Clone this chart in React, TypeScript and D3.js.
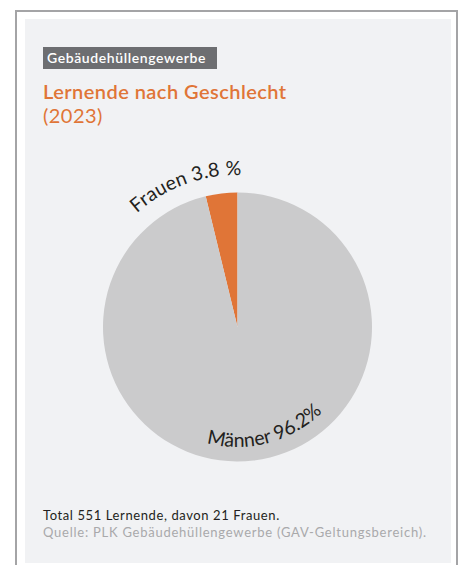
import React from "react";
import * as d3 from "d3";

const categories = ["Frauen", "Männer"];
const shares = [3.8, 96.2];
const labels = ["Frauen 3.8 %", "Männer 96.2%"];
const colors = ["#E07537", "#CBCBCC"];
const tagText = "Gebäudehüllengewerbe";
const titleText = "Lernende nach Geschlecht";
const subtitleText = "(2023)";
const noteText = "Total 551 Lernende, davon 21 Frauen.";
const sourceText = "Quelle: PLK Gebäudehüllengewerbe (GAV-Geltungsbereich).";

const W = 463;
const H = 565;
const cx = 237.5;
const cy = 327;
const R = 134.5;
const FONT = "Lato, 'Open Sans', sans-serif";

function arcPath(r: number, centerDeg: number, spanDeg: number, clockwise: boolean) {
  const toRad = (d: number) => (d * Math.PI) / 180;
  const a0 = clockwise ? centerDeg - spanDeg / 2 : centerDeg + spanDeg / 2;
  const a1 = clockwise ? centerDeg + spanDeg / 2 : centerDeg - spanDeg / 2;
  const p = (a: number) => [cx + r * Math.sin(toRad(a)), cy - r * Math.cos(toRad(a))];
  const [x0, y0] = p(a0);
  const [x1, y1] = p(a1);
  const large = spanDeg > 180 ? 1 : 0;
  return `M${x0},${y0} A${r},${r} 0 ${large} ${clockwise ? 1 : 0} ${x1},${y1}`;
}

export default function App() {
  const data = categories.map((c, i) => ({ c, v: shares[i], color: colors[i], label: labels[i] }));
  const pie = d3
    .pie<any>()
    .value((d) => d.v)
    .sort(null)
    .startAngle(-2 * Math.PI * (shares[0] / 100))
    .endAngle(2 * Math.PI - 2 * Math.PI * (shares[0] / 100));
  const arcs = pie(data);
  const arcGen = d3.arc<any>().innerRadius(0).outerRadius(R);

  return (
    <svg
      width={W}
      height={H}
      style={{ position: "absolute", left: 0, top: 0, fontFamily: FONT }}
    >
      <rect x={0} y={0} width={W} height={H} fill="#ffffff" />
      <rect x={16} y={11} width={441} height={H} fill="none" stroke="#a4a4a6" strokeWidth={2} />
      <rect x={25} y={19} width={426} height={544} fill="#f1f2f4" />

      <rect x={43} y={47} width={174} height={22} fill="#6d6e71" />
      <text x={47} y={63} fill="#ffffff" fontSize={14} fontWeight={600} letterSpacing={0.6}>
        {tagText}
      </text>

      <text x={43} y={99} fill="#E07537" fontSize={20} fontWeight={600} letterSpacing={0.45}>
        {titleText}
      </text>
      <text x={43} y={123} fill="#E07537" fontSize={20} fontWeight={400} letterSpacing={0.45}>
        {subtitleText}
      </text>

      <g transform={`translate(${cx},${cy})`}>
        {arcs.map((a, i) => (
          <path key={i} d={arcGen(a) as string} fill={a.data.color} />
        ))}
      </g>

      <defs>
        <path id="lblTop" d={arcPath(152, -20, 140, true)} />
        <path id="lblBottom" d={arcPath(120, 165, 140, false)} />
      </defs>
      <text fontSize={19.5} fill="#231f20" fontWeight={400} letterSpacing={0.2}>
        <textPath href="#lblTop" startOffset="50%" textAnchor="middle">
          {labels[0]}
        </textPath>
      </text>
      <text fontSize={19.5} fill="#231f20" fontWeight={400} letterSpacing={0}>
        <textPath href="#lblBottom" startOffset="50%" textAnchor="middle">
          {labels[1]}
        </textPath>
      </text>

      <text x={43} y={520} fill="#231f20" fontSize={13} letterSpacing={0.6}>
        {noteText}
      </text>
      <text x={43} y={537} fill="#a9a9ab" fontSize={13} letterSpacing={0.75}>
        {sourceText}
      </text>
    </svg>
  );
}
